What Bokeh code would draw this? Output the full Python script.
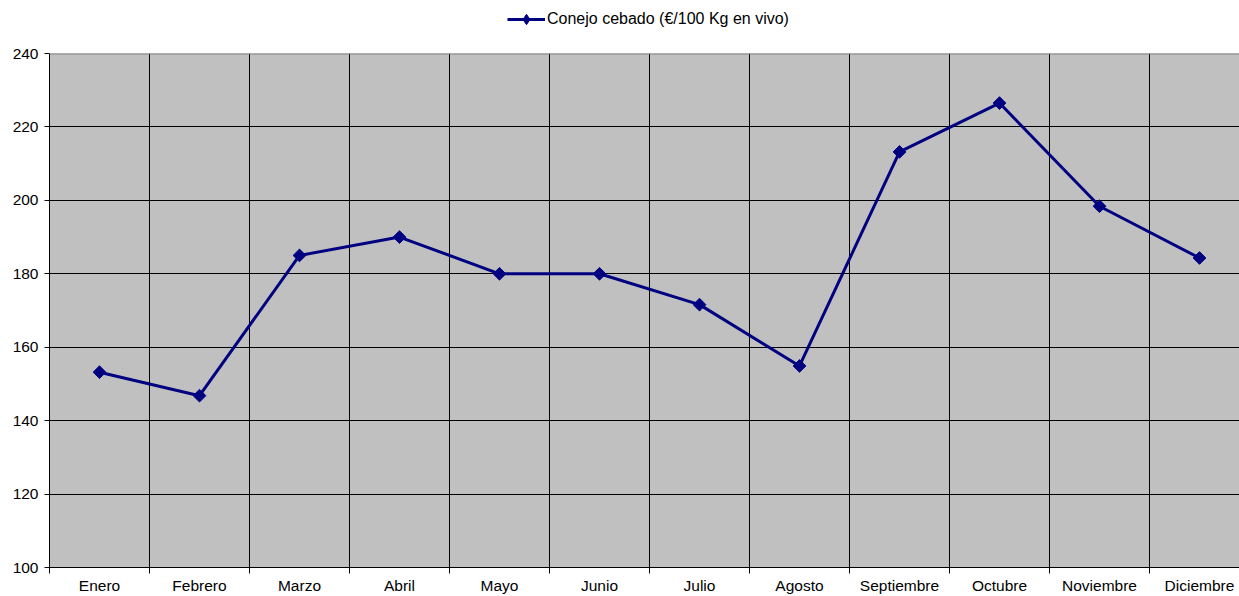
import math
from bokeh.plotting import figure
from bokeh.layouts import column
from bokeh.models import FixedTicker, Legend, LegendItem, Range1d, Span
from bokeh.embed import file_html
from bokeh.resources import INLINE

months = ["Enero", "Febrero", "Marzo", "Abril", "Mayo", "Junio", "Julio",
          "Agosto", "Septiembre", "Octubre", "Noviembre", "Diciembre"]
values = [153.2, 146.8, 185.0, 190.0, 180.0, 180.0, 171.6, 154.9, 213.2, 226.5, 198.4, 184.3]
series_name = "Conejo cebado (€/100 Kg en vivo)"
y_ticks = [100, 120, 140, 160, 180, 200, 220, 240]

FONT = "Liberation Sans"
NAVY = "#000080"

x = [i + 0.5 for i in range(len(months))]
boundaries = list(range(len(months) + 1))

# ---- main chart ----
p = figure(width=1239, height=553, output_backend="svg", toolbar_location=None,
           x_range=Range1d(0, 11.9), y_range=Range1d(100, 240),
           min_border_left=49, min_border_top=10, min_border_bottom=25, min_border_right=0)
p.background_fill_color = "#C0C0C0"
p.border_fill_color = "white"
p.outline_line_color = None

p.xgrid.ticker = FixedTicker(ticks=boundaries)
p.xgrid.grid_line_color = "black"
p.xgrid.grid_line_width = 1
p.ygrid.ticker = FixedTicker(ticks=y_ticks[1:-1])
p.ygrid.grid_line_color = "black"
p.ygrid.grid_line_width = 1
p.add_layout(Span(location=y_ticks[-1], dimension="width", line_color="#808080", line_width=2))

yax = p.yaxis[0]
yax.ticker = FixedTicker(ticks=y_ticks)
yax.major_tick_out = 5
yax.major_tick_in = 0
yax.minor_tick_line_color = None
yax.axis_line_color = "black"
yax.major_tick_line_color = "black"
yax.major_label_text_font = FONT
yax.major_label_text_font_size = "15.5px"
yax.major_label_text_color = "black"
yax.major_label_standoff = 6

xax = p.xaxis[0]
xax.ticker = FixedTicker(ticks=x, minor_ticks=boundaries)
xax.major_label_overrides = {xi: m for xi, m in zip(x, months)}
xax.major_tick_line_color = None
xax.major_tick_out = 4
xax.major_tick_in = 0
xax.minor_tick_line_color = "black"
xax.minor_tick_out = 6
xax.minor_tick_in = 0
xax.axis_line_color = "black"
xax.major_label_text_font = FONT
xax.major_label_text_font_size = "15.5px"
xax.major_label_text_color = "black"
xax.major_label_standoff = 3

p.line(x, values, line_color=NAVY, line_width=3)
p.scatter(x, values, marker="square", angle=math.pi / 4, size=9,
          fill_color=NAVY, line_color=NAVY)

# ---- legend strip above ----
lg = figure(width=1239, height=43, output_backend="svg", toolbar_location=None,
            x_axis_location=None, y_axis_location=None,
            x_range=Range1d(0, 11.9), y_range=Range1d(100, 240),
            min_border_left=0, min_border_right=0, min_border_top=0, min_border_bottom=0)
lg.outline_line_color = None
lg.background_fill_color = "white"
lg.border_fill_color = "white"
lg.xgrid.visible = False
lg.ygrid.visible = False
leg_line = lg.line(x, values, line_color=NAVY, line_width=3, visible=False)
leg_pts = lg.scatter(x, values, marker="diamond", size=11,
                     fill_color=NAVY, line_color=NAVY, visible=False)
legend = Legend(items=[LegendItem(label=series_name, renderers=[leg_line, leg_pts])],
                location=(458, 11), orientation="horizontal",
                border_line_color=None, background_fill_alpha=0, inactive_fill_alpha=0,
                glyph_width=38, glyph_height=26, label_standoff=2, padding=0, margin=0,
                label_text_font=FONT, label_text_font_size="16px", label_text_color="black")
lg.add_layout(legend)

layout = column(lg, p, spacing=0)
open("out.html", "w").write(file_html(layout, INLINE))
